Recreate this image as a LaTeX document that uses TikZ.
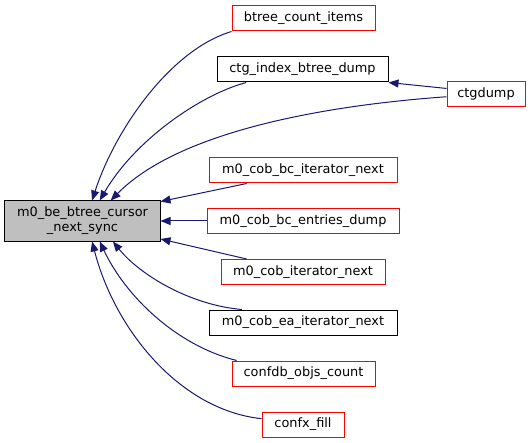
\documentclass[tikz,border=0pt]{standalone}
\usepackage{fontspec}
\setmainfont{DejaVu Sans}
\usetikzlibrary{arrows.meta}
\definecolor{edge}{HTML}{191970}
\definecolor{undoc}{HTML}{FF0000}
\definecolor{cur}{HTML}{BFBFBF}

\begin{document}
\begin{tikzpicture}[x=1bp,y=-1bp,
  font=\fontsize{12.9bp}{15bp}\selectfont,
  box/.style={draw=undoc,line width=1bp,inner sep=0pt,minimum height=25bp},
  doc/.style={box,draw=black},
  self/.style={box,draw=black,fill=cur,align=center,minimum height=40bp},
  a/.style={-{Triangle[length=10bp,width=8bp]},draw=edge,line width=1bp}]
\useasboundingbox (0,0) rectangle (531,443);
\node[self,minimum width=155bp] (cur) at (82.5,221) {m0\_be\_btree\_cursor\\\_next\_sync};
\node[box,minimum width=143bp] (cnt) at (303.5,18.5) {btree\_count\_items};
\node[doc,minimum width=171bp] (idx) at (302.5,69.5) {ctg\_index\_btree\_dump};
\node[box,minimum width=78bp] (dump) at (486,94) {ctgdump};
\node[box,minimum width=188bp] (bcit) at (303,170.5) {m0\_cob\_bc\_iterator\_next};
\node[box,minimum width=192bp] (bcent) at (303,221) {m0\_cob\_bc\_entries\_dump};
\node[box,minimum width=164bp] (cobit) at (303,272) {m0\_cob\_iterator\_next};
\node[doc,minimum width=188bp] (eait) at (303,322.5) {m0\_cob\_ea\_iterator\_next};
\node[box,minimum width=143bp] (cfdb) at (303.5,373.5) {confdb\_objs\_count};
\node[box,minimum width=82bp] (cfx) at (303,424.5) {confx\_fill};
\draw[a] (cnt.south west) .. controls (170,50) and (115,130) .. (cur.65);
\draw[a] (idx.193) .. controls (200,95) and (135,140) .. (cur.50);
\draw[a] (dump.184) .. controls (330,105) and (180,130) .. (cur.36);
\draw[a] (dump.172) -- (idx.south east);
\draw[a] (bcit.193) -- (cur.14);
\draw[a] (bcent.west) -- (cur.east);
\draw[a] (cobit.167) -- (cur.-13);
\draw[a] (eait.168) .. controls (190,305) and (140,275) .. (cur.-34);
\draw[a] (cfdb.169) .. controls (175,345) and (125,295) .. (cur.-50);
\draw[a] (cfx.172) .. controls (180,410) and (115,330) .. (cur.-65);
\end{tikzpicture}
\end{document}
